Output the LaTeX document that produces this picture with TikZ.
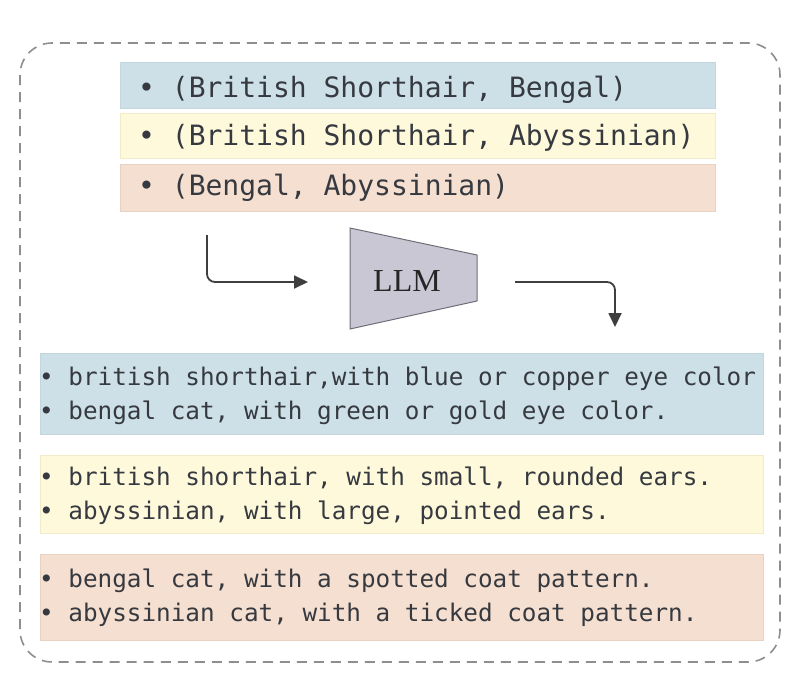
\documentclass[tikz,border=0pt]{standalone}
\usepackage{fontspec}
\usetikzlibrary{arrows.meta}
\newfontfamily\monofont{DejaVu Sans Mono}
\newfontfamily\llmfont{Liberation Serif}
\definecolor{bluebox}{HTML}{CDE0E8}
\definecolor{blueedge}{HTML}{C2D6DE}
\definecolor{yellowbox}{HTML}{FFF9DB}
\definecolor{yellowedge}{HTML}{F3EBC8}
\definecolor{peachbox}{HTML}{F5DFD0}
\definecolor{peachedge}{HTML}{EAD2C2}
\definecolor{txt}{HTML}{363A40}
\definecolor{llmfill}{HTML}{C9C7D3}
\definecolor{llmedge}{HTML}{6E6E78}
\definecolor{dashgray}{HTML}{8E8E8E}
\definecolor{arrowgray}{HTML}{3F3F3F}
\tikzset{
  pairbox/.style={line width=0.8pt},
  toptext/.style={anchor=base west, inner sep=0pt, text=txt, font=\monofont\fontsize{28}{28}\selectfont},
  bottext/.style={anchor=base west, inner sep=0pt, text=txt, font=\monofont\fontsize{24.3}{24.3}\selectfont},
  flow/.style={draw=arrowgray, line width=1.8pt, rounded corners=8pt, -{Triangle[length=14pt,width=13pt]}},
}
\begin{document}
\begin{tikzpicture}[x=1pt,y=-1pt]
\useasboundingbox (0,0) rectangle (800,688);
% outer dashed frame
\draw[draw=dashgray, line width=1.6pt, dash pattern=on 10pt off 7pt, rounded corners=32pt] (20,43) rectangle (780,662);
% top boxes
\draw[pairbox, fill=bluebox, draw=blueedge] (120,62) rectangle (715,108);
\draw[pairbox, fill=yellowbox, draw=yellowedge] (120,113) rectangle (715,158);
\draw[pairbox, fill=peachbox, draw=peachedge] (120,164) rectangle (715,211);
\node[toptext] (p1) at (138,97) {• (British Shorthair, Bengal)};
\node[toptext] (p2) at (138,145) {• (British Shorthair, Abyssinian)};
\node[toptext] (p3) at (138,195) {• (Bengal, Abyssinian)};
% LLM
\draw[fill=llmfill, draw=llmedge, line width=1pt] (350,228) -- (477,255) -- (477,301) -- (350,329) -- cycle;
\node[font=\llmfont\fontsize{32}{32}\selectfont, text=black!85, inner sep=0pt] (llm) at (407,281) {LLM};
% arrows
\coordinate (a0) at (207,235);
\coordinate (a1) at (308,282);
\coordinate (b0) at (515,282);
\coordinate (b1) at (615,327);
\draw[flow] (a0) |- (a1);
\draw[flow] (b0) -| (b1);
% bottom boxes
\draw[pairbox, fill=bluebox, draw=blueedge] (40,353) rectangle (763,434);
\draw[pairbox, fill=yellowbox, draw=yellowedge] (40,455) rectangle (763,533);
\draw[pairbox, fill=peachbox, draw=peachedge] (40,554) rectangle (763,640);
\node[bottext] (d1) at (39,385) {• british shorthair,with blue or copper eye color};
\node[bottext] (d2) at (39,419) {• bengal cat, with green or gold eye color.};
\node[bottext] (d3) at (39,485) {• british shorthair, with small, rounded ears.};
\node[bottext] (d4) at (39,519) {• abyssinian, with large, pointed ears.};
\node[bottext] (d5) at (39,587) {• bengal cat, with a spotted coat pattern.};
\node[bottext] (d6) at (39,621) {• abyssinian cat, with a ticked coat pattern.};
\end{tikzpicture}
\end{document}
